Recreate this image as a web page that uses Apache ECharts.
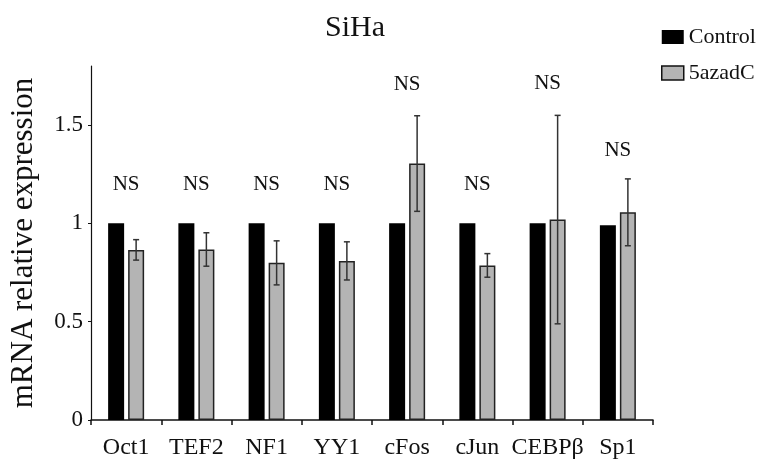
<!DOCTYPE html>
<html>
<head>
<meta charset="utf-8">
<script src="https://cdn.jsdelivr.net/npm/echarts@6/dist/echarts.min.js"></script>
<style>html,body{margin:0;padding:0;background:#fff}#c{width:767px;height:463px}</style>
</head>
<body>
<div id="c"></div>
<script>
var categories = ['Oct1', 'TEF2', 'NF1', 'YY1', 'cFos', 'cJun', 'CEBPβ', 'Sp1'];
var controlValues = [1, 1, 1, 1, 1, 1, 1, 0.99];
var azaValues = [0.865, 0.867, 0.799, 0.809, 1.304, 0.786, 1.019, 1.056];
var azaErrors = [0.052, 0.085, 0.112, 0.097, 0.243, 0.060, 0.530, 0.170];
var nsLabelLevels = [1.196, 1.196, 1.196, 1.196, 1.708, 1.20, 1.713, 1.368];
var yTicks = [0, 0.5, 1, 1.5];

var FONT = 'Liberation Serif, Times New Roman, serif';
var chart = echarts.init(document.getElementById('c'), null, {renderer: 'canvas'});

var errData = categories.map(function (c, i) {
  return [i, azaValues[i] - azaErrors[i], azaValues[i] + azaErrors[i]];
});
var nsData = categories.map(function (c, i) { return [i, nsLabelLevels[i]]; });

chart.setOption({
  animation: false,
  backgroundColor: '#fff',
  title: {
    text: 'SiHa', left: 320, top: 8,
    textStyle: {fontFamily: FONT, fontSize: 30, fontWeight: 'normal', color: '#111'}
  },
  legend: {
    orient: 'vertical', left: 656, top: 21, itemWidth: 22, itemHeight: 14, itemGap: 14,
    icon: 'rect',
    data: [
      {name: 'Control', itemStyle: {color: '#000'}},
      {name: '5azadC', itemStyle: {color: '#b4b4b4', borderColor: '#111', borderWidth: 1.5}}
    ],
    textStyle: {fontFamily: FONT, fontSize: 22, color: '#111'}
  },
  grid: {left: 87, right: 114, top: 66, bottom: 43},
  xAxis: {
    type: 'category', data: categories,
    axisLine: {lineStyle: {color: '#111', width: 1.5}},
    axisTick: {show: true, length: 5, lineStyle: {color: '#111', width: 1.5}},
    axisLabel: {fontFamily: FONT, fontSize: 24, color: '#111', margin: 16, interval: 0, hideOverlap: false},
    splitLine: {show: false}
  },
  yAxis: {
    type: 'value', min: 0, max: 1.8, interval: 0.5,
    name: 'mRNA relative expression', nameLocation: 'middle', nameGap: 52,
    nameTextStyle: {fontFamily: FONT, fontSize: 31, color: '#111'},
    axisLine: {show: true, lineStyle: {color: '#111', width: 1.2}},
    axisTick: {show: true, length: 3, customValues: yTicks, lineStyle: {color: '#111'}},
    axisLabel: {fontFamily: FONT, fontSize: 23, color: '#111', margin: 8, customValues: yTicks},
    splitLine: {show: false}
  },
  series: [
    {
      name: 'Control', type: 'bar', data: controlValues, barWidth: 16, barGap: '25%',
      itemStyle: {color: '#000'}
    },
    {
      name: '5azadC', type: 'bar', data: azaValues, barWidth: 16,
      itemStyle: {color: '#b4b4b4', borderColor: '#222', borderWidth: 1.5}
    },
    {
      type: 'custom', data: errData, z: 10,
      encode: {x: 0, y: [1, 2]},
      renderItem: function (params, api) {
        var i = api.value(0);
        var lo = api.coord([i, api.value(1)]);
        var hi = api.coord([i, api.value(2)]);
        var x = lo[0] + 10;
        var w = 3;
        var st = {stroke: '#333', lineWidth: 1.5};
        return {
          type: 'group', children: [
            {type: 'line', shape: {x1: x, y1: lo[1], x2: x, y2: hi[1]}, style: st},
            {type: 'line', shape: {x1: x - w, y1: lo[1], x2: x + w, y2: lo[1]}, style: st},
            {type: 'line', shape: {x1: x - w, y1: hi[1], x2: x + w, y2: hi[1]}, style: st}
          ]
        };
      }
    },
    {
      type: 'scatter', data: nsData, symbolSize: 1, silent: true,
      itemStyle: {opacity: 1, color: 'rgba(0,0,0,0)'},
      label: {
        show: true, position: 'inside', formatter: 'NS',
        fontFamily: FONT, fontSize: 21, color: '#111', opacity: 1
      }
    }
  ]
});
</script>
</body>
</html>
